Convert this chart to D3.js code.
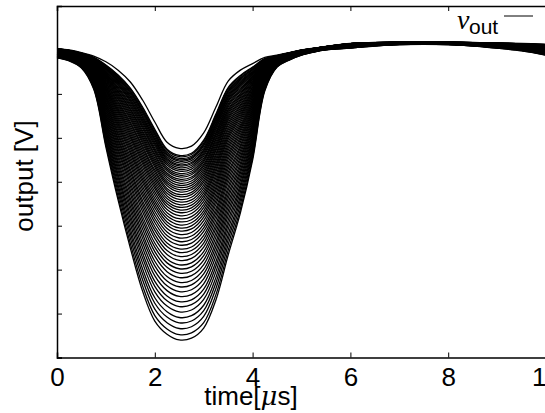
<!DOCTYPE html>
<html>
<head>
<meta charset="utf-8">
<script src="https://cdn.jsdelivr.net/npm/d3@7"></script>
<style>
  body { margin: 0; background: #fff; }
  svg { display: block; }
  text { font-family: "Liberation Sans", Arial, sans-serif; fill: #000; }
</style>
</head>
<body>
<div id="chart"></div>
<script>
// time grid [µs]
const time = [0, 0.25, 0.5, 0.75, 1, 1.25, 1.5, 1.75, 2, 2.25, 2.5, 2.75, 3, 3.25, 3.5, 3.75,
              4, 4.25, 4.5, 4.75, 5, 5.25, 5.5, 6, 6.5, 7, 7.5, 8, 8.5, 9, 9.5, 10];

// shallowest trace of the sweep (top envelope)
const shallow = [7.03, 7.00, 6.94, 6.86, 6.73, 6.54, 6.27, 5.86, 5.36, 4.90, 4.76, 4.81, 5.11, 5.70, 6.29, 6.54,
                 6.69, 6.83, 6.88, 6.94, 7.00, 7.04, 7.08, 7.15, 7.17, 7.18, 7.18, 7.18, 7.17, 7.16, 7.15, 7.13];

// deepest trace of the sweep (bottom envelope)
const deep = [6.82, 6.75, 6.59, 6.11, 4.79, 3.58, 2.49, 1.51, 0.83, 0.53, 0.40, 0.44, 0.67, 1.31, 2.33, 3.29,
              4.49, 6.07, 6.61, 6.77, 6.88, 6.95, 7.00, 7.04, 7.09, 7.12, 7.13, 7.12, 7.09, 7.04, 6.98, 6.88];

// minimum of every trace at t ≈ 2.5 µs
const minima = [0.40, 0.52, 0.66, 0.79, 0.91, 1.04, 1.16, 1.27, 1.39, 1.50, 1.61, 1.71, 1.82, 1.92, 2.02,
                2.11, 2.21, 2.30, 2.39, 2.47, 2.56, 2.64, 2.72, 2.80, 2.88, 2.95, 3.02, 3.09, 3.16, 3.23,
                3.30, 3.36, 3.42, 3.48, 3.54, 3.60, 3.66, 3.71, 3.77, 3.82, 3.87, 3.92, 3.97, 4.02, 4.06,
                4.11, 4.15, 4.19, 4.24, 4.28, 4.32, 4.36, 4.39, 4.43, 4.47, 4.50, 4.53, 4.57, 4.60, 4.76];

const xTicks = [0, 2, 4, 6, 8, 10];
const yTicks = [0, 1, 2, 3, 4, 5, 6, 7, 8];

const W = 545, H = 413;
const margin = {top: 6, right: -1, bottom: 55.5, left: 57};
const iw = W - margin.left - margin.right;
const ih = H - margin.top - margin.bottom;

const svg = d3.select("#chart").append("svg")
    .attr("width", W)
    .attr("height", H);

const g = svg.append("g")
    .attr("transform", "translate(" + margin.left + "," + margin.top + ")");

const x = d3.scaleLinear().domain([0, 10]).range([0, iw]);
const y = d3.scaleLinear().domain([0, 8]).range([ih, 0]);

// each trace sits between the two envelopes, placed by its own minimum
const iMid = time.indexOf(2.5);
const traces = minima.map(m => {
    const w = (m - shallow[iMid]) / (deep[iMid] - shallow[iMid]);
    return time.map((t, i) => ({t: t, v: shallow[i] + w * (deep[i] - shallow[i])}));
});

const line = d3.line()
    .x(d => x(d.t))
    .y(d => y(d.v))
    .curve(d3.curveCatmullRom.alpha(0.5));

g.append("g")
    .attr("class", "traces")
  .selectAll("path")
    .data(traces)
  .enter().append("path")
    .attr("d", line)
    .style("fill", "none")
    .style("stroke", "#000")
    .style("stroke-width", 1.3);

// axes: ticks inside, no y labels
const xAxis = g.append("g")
    .attr("transform", "translate(0," + ih + ")")
    .call(d3.axisBottom(x).tickValues(xTicks).tickSize(-5).tickPadding(10).tickFormat(d3.format("d")));
xAxis.selectAll("text").style("font-size", "26px").attr("dy", "0.71em");

const xTop = g.append("g")
    .call(d3.axisTop(x).tickValues(xTicks).tickSize(-5).tickFormat(""));

const yAxis = g.append("g")
    .call(d3.axisLeft(y).tickValues(yTicks).tickSize(-5).tickFormat(""));

[xAxis, xTop, yAxis].forEach(a => {
    a.select(".domain").attr("stroke", "#000").attr("stroke-width", 1.5);
    a.selectAll(".tick line").attr("stroke", "#000").attr("stroke-width", 1);
});

// axis titles
svg.append("text")
    .attr("x", 251)
    .attr("y", 405)
    .attr("text-anchor", "middle")
    .style("font-size", "26px")
    .html('time[<tspan font-style="italic" font-family="DejaVu Serif">μ</tspan>s]');

svg.append("text")
    .attr("transform", "translate(33,176) rotate(-90)")
    .attr("text-anchor", "middle")
    .style("font-size", "26px")
    .text("output [V]");

// legend
const leg = svg.append("g");
leg.append("text")
    .attr("x", 457)
    .attr("y", 29)
    .style("font-family", "'Liberation Serif', serif")
    .style("font-style", "italic")
    .style("font-size", "28px")
    .text("v");
leg.append("text")
    .attr("x", 469)
    .attr("y", 34)
    .style("font-size", "21px")
    .text("out");
leg.append("line")
    .attr("x1", 504).attr("x2", 533)
    .attr("y1", 16).attr("y2", 16)
    .attr("stroke", "#000")
    .attr("stroke-width", 1);
</script>
</body>
</html>
